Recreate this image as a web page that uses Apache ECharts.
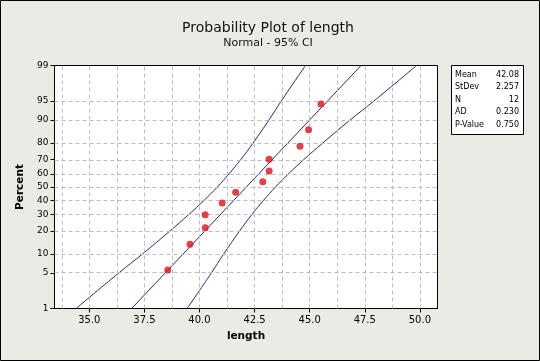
<!DOCTYPE html>
<html>
<head>
<meta charset="utf-8">
<script src="https://cdn.jsdelivr.net/npm/echarts@6/dist/echarts.min.js"></script>
<style>
html,body{margin:0;padding:0;background:#ECEAE4;}
#chart{width:540px;height:361px;}
</style>
</head>
<body>
<div id="chart"></div>
<script>
// ---- data ----
const pointX   = [38.56, 39.57, 40.26, 40.26, 41.03, 41.64, 42.87, 43.16, 43.16, 44.56, 44.95, 45.51];
const pointPct = [5.6, 13.7, 21.8, 29.8, 37.9, 46.0, 54.0, 62.1, 70.2, 78.2, 86.3, 94.4];

const fitX   = [36.92, 47.33];
const fitPct = [1, 99];

const bandPct   = [1, 5, 10, 20, 30, 40, 50, 60, 70, 80, 90, 95, 99];
const lowerBand = [34.40, 36.34, 37.42, 38.66, 39.52, 40.21, 40.81, 41.34, 41.87, 42.43, 43.15, 43.71, 44.81];
const upperBand = [39.44, 40.54, 41.10, 41.82, 42.38, 42.91, 43.45, 44.04, 44.73, 45.59, 46.83, 47.91, 49.85];

const yTickPct = [1, 5, 10, 20, 30, 40, 50, 60, 70, 80, 90, 95, 99];
const xTicks   = [35, 37.5, 40, 42.5, 45, 47.5, 50];
const xGrid    = [33.75, 35, 36.25, 37.5, 38.75, 40, 41.25, 42.5, 43.75, 45, 46.25, 47.5, 48.75, 50];

const statLabels = ['Mean', 'StDev', 'N', 'AD', 'P-Value'];
const statValues = ['42.08', '2.257', '12', '0.230', '0.750'];

const titleText = 'Probability Plot of length';
const subText = 'Normal - 95% CI';

// ---- normal probability scale (inverse normal CDF, Acklam) ----
function probit(p) {
  const a = [-3.969683028665376e+01, 2.209460984245205e+02, -2.759285104469687e+02, 1.383577518672690e+02, -3.066479806614716e+01, 2.506628277459239e+00];
  const b = [-5.447609879822406e+01, 1.615858368580409e+02, -1.556989798598866e+02, 6.680131188771972e+01, -1.328068155288572e+01];
  const c = [-7.784894002430293e-03, -3.223964580411365e-01, -2.400758277161838e+00, -2.549732539343734e+00, 4.374664141464968e+00, 2.938163982698783e+00];
  const d = [7.784695709041462e-03, 3.224671290700398e-01, 2.445134137142996e+00, 3.754408661907416e+00];
  const pl = 0.02425, ph = 1 - pl;
  let q, r;
  if (p < pl) {
    q = Math.sqrt(-2 * Math.log(p));
    return (((((c[0]*q+c[1])*q+c[2])*q+c[3])*q+c[4])*q+c[5]) / ((((d[0]*q+d[1])*q+d[2])*q+d[3])*q+1);
  } else if (p <= ph) {
    q = p - 0.5; r = q * q;
    return (((((a[0]*r+a[1])*r+a[2])*r+a[3])*r+a[4])*r+a[5])*q / (((((b[0]*r+b[1])*r+b[2])*r+b[3])*r+b[4])*r+1);
  } else {
    q = Math.sqrt(-2 * Math.log(1 - p));
    return -(((((c[0]*q+c[1])*q+c[2])*q+c[3])*q+c[4])*q+c[5]) / ((((d[0]*q+d[1])*q+d[2])*q+d[3])*q+1);
  }
}
const zOf = pct => probit(pct / 100);
const yTickZ = yTickPct.map(zOf);
function pctLabel(v) {
  let best = 0, bd = Infinity;
  yTickZ.forEach((z, i) => { const dd = Math.abs(z - v); if (dd < bd) { bd = dd; best = i; } });
  return String(yTickPct[best]);
}

const FONT = 'DejaVu Sans';
const bandColor = '#2A2A7A';

const chart = echarts.init(document.getElementById('chart'), null, {renderer: 'canvas'});

const gridLines = [];
xGrid.forEach(v => gridLines.push({xAxis: v}));
yTickPct.slice(1, -1).forEach(p => gridLines.push({yAxis: zOf(p)}));

const statGraphics = [{
  type: 'rect', z: 10,
  shape: {x: 451.5, y: 65.5, width: 72, height: 69},
  style: {fill: '#fff', stroke: '#000', lineWidth: 1}
}];
statLabels.forEach((t, i) => {
  statGraphics.push({type: 'text', z: 11, style: {x: 455, y: 75 + i * 12.4, text: t, font: '8px "DejaVu Sans"', fill: '#000', textAlign: 'left', textVerticalAlign: 'middle'}});
  statGraphics.push({type: 'text', z: 11, style: {x: 519, y: 75 + i * 12.4, text: statValues[i], font: '8px "DejaVu Sans"', fill: '#000', textAlign: 'right', textVerticalAlign: 'middle'}});
});

chart.setOption({
  animation: false,
  backgroundColor: '#ECEAE4',
  grid: {left: 54.5, top: 65.5, width: 383, height: 243, show: true, backgroundColor: '#fff', borderColor: '#000', borderWidth: 1},
  xAxis: {
    type: 'value', min: 33.42, max: 50.8,
    name: 'length', nameLocation: 'middle', nameGap: 22,
    nameTextStyle: {fontFamily: FONT, fontWeight: 'bold', fontSize: 10.5, color: '#000'},
    axisLine: {show: true, onZero: false, lineStyle: {color: '#000', width: 1}},
    axisTick: {show: true, length: 4, customValues: xTicks, lineStyle: {color: '#000'}},
    axisLabel: {customValues: xTicks, formatter: v => v.toFixed(1), fontFamily: FONT, fontSize: 10, color: '#000', margin: 7},
    splitLine: {show: false}
  },
  yAxis: {
    type: 'value', min: zOf(1), max: zOf(99),
    name: 'Percent', nameLocation: 'middle', nameGap: 25, nameRotate: 90,
    nameTextStyle: {fontFamily: FONT, fontWeight: 'bold', fontSize: 10.5, color: '#000'},
    axisLine: {show: true, onZero: false, lineStyle: {color: '#000', width: 1}},
    axisTick: {show: true, length: 4, customValues: yTickZ, lineStyle: {color: '#000'}},
    axisLabel: {customValues: yTickZ, formatter: pctLabel, fontFamily: FONT, fontSize: 9, color: '#000', margin: 6},
    splitLine: {show: false}
  },
  series: [
    {
      type: 'line', data: [], z: 1, silent: true,
      markLine: {silent: true, symbol: ['none', 'none'], label: {show: false},
        lineStyle: {type: [4, 3], color: '#BDBDBD', width: 1}, data: gridLines}
    },
    {
      type: 'line', z: 3, symbol: 'none', silent: true,
      lineStyle: {color: bandColor, width: 1},
      data: fitX.map((x, i) => [x, zOf(fitPct[i])])
    },
    {
      type: 'line', z: 3, symbol: 'none', silent: true, smooth: 0.4,
      lineStyle: {color: bandColor, width: 1},
      data: lowerBand.map((x, i) => [x, zOf(bandPct[i])])
    },
    {
      type: 'line', z: 3, symbol: 'none', silent: true, smooth: 0.4,
      lineStyle: {color: bandColor, width: 1},
      data: upperBand.map((x, i) => [x, zOf(bandPct[i])])
    },
    {
      type: 'scatter', z: 5, symbol: 'circle', symbolSize: 7,
      itemStyle: {color: '#D7141A'},
      data: pointX.map((x, i) => [x, zOf(pointPct[i])])
    }
  ],
  graphic: [
    {type: 'rect', z: 0, silent: true, shape: {x: 0.5, y: 0.5, width: 539, height: 360}, style: {fill: null, stroke: '#000', lineWidth: 1}},
    {type: 'text', z: 10, style: {x: 268, y: 28, text: titleText, font: '14px "DejaVu Sans"', fill: '#111', textAlign: 'center', textVerticalAlign: 'middle'}},
    {type: 'text', z: 10, style: {x: 268, y: 43, text: subText, font: '11px "DejaVu Sans"', fill: '#111', textAlign: 'center', textVerticalAlign: 'middle'}}
  ].concat(statGraphics)
});
</script>
</body>
</html>
